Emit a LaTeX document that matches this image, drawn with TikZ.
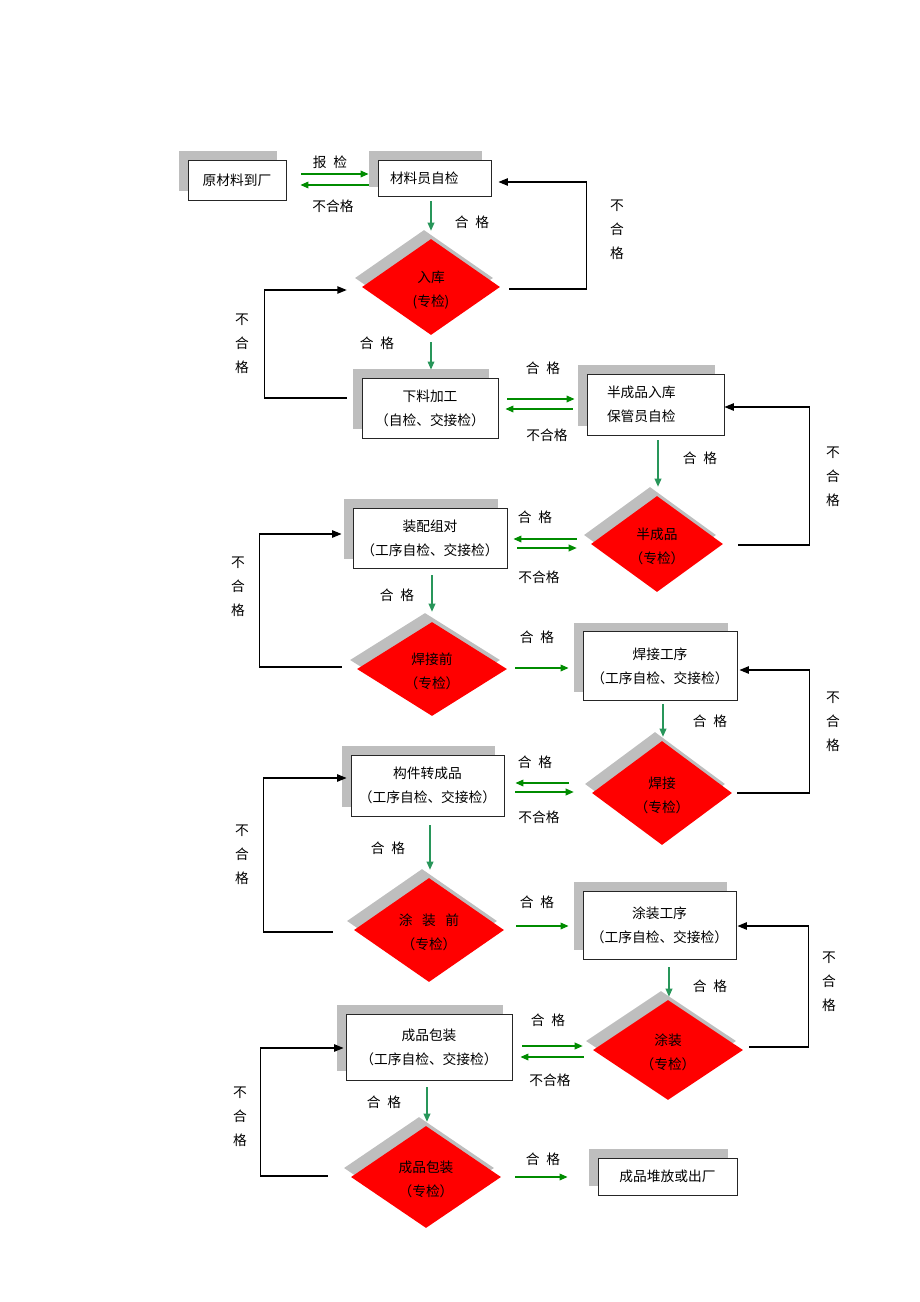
\documentclass[tikz,border=0pt]{standalone}
\usepackage{fontspec}
\setmainfont{Noto Sans CJK SC}
\usepackage{tikz}
\usepackage{xcolor}
\usetikzlibrary{shapes, arrows.meta, shadows, calc}

\definecolor{passgreen}{RGB}{0,140,0}
\definecolor{downgreen}{RGB}{40,150,90}
\definecolor{shadowgray}{RGB}{190,190,190}
\newcommand{\kgap}{\hspace{5pt}}

\begin{document}
\begin{tikzpicture}[x=0.75pt, y=-0.75pt,
        every node/.style={font=\fontsize{10.3}{18}\selectfont},
        box/.style={rectangle, draw=black!85, fill=white, line width=0.65pt, align=center, inner sep=0pt,
            drop shadow={shadow xshift=-6.75pt, shadow yshift=6.75pt, fill=shadowgray, opacity=1}},
        check/.style={diamond, fill=red, align=center, inner sep=0pt, text depth=0pt,
            minimum width=112.5pt, minimum height=75pt,
            drop shadow={shadow xshift=-5.25pt, shadow yshift=6.75pt, fill=shadowgray, opacity=1}},
        vlabel/.style={align=center},
        ok/.style={draw=passgreen, line width=1pt, -{Triangle[length=6pt, width=5pt]}},
        okdown/.style={draw=downgreen, line width=1pt, -{Triangle[length=6pt, width=5pt]}},
        back/.style={draw, line width=0.9pt, -{Triangle[length=7pt, width=5.5pt]}}]
        \useasboundingbox (0, 0) rectangle (920, 1302);

        \node[box, minimum width=73.5pt, minimum height=30pt] (raw) at (237, 180) {原材料到厂};
        \node[box, minimum height=27pt, inner xsep=9pt, text width=66.75pt, align=left] (selfchk) at (434.5, 178) {材料员自检};
        \node[check, minimum width=103.5pt, minimum height=72pt] (store) at (431, 287) {\raisebox{-3pt}{入库}\\\raisebox{-3pt}{(专检)}};
        \node[box, minimum width=102pt, minimum height=45pt] (cut) at (430, 408) {下料加工\\（自检、交接检）};
        \node[box, minimum height=45.75pt, inner xsep=15pt, text width=72.75pt, align=left] (semi) at (655.5, 404.5) {半成品入库\\保管员自检};
        \node[check, minimum width=99pt, minimum height=72pt] (semichk) at (657, 544) {\raisebox{-3pt}{半成品}\\\raisebox{-3pt}{（专检）}};
        \node[box, minimum width=115.5pt, minimum height=45pt] (assy) at (430, 538) {装配组对\\（工序自检、交接检）};
        \node[check, minimum height=70.5pt] (prewld) at (432, 669) {\raisebox{-3pt}{焊接前}\\\raisebox{-3pt}{（专检）}};
        \node[box, minimum width=115.5pt, minimum height=51.75pt] (wld) at (660, 666) {焊接工序\\（工序自检、交接检）};
        \node[check, minimum width=105pt, minimum height=78pt] (wldchk) at (662, 793) {\raisebox{-3pt}{焊接}\\\raisebox{-3pt}{（专检）}};
        \node[box, minimum width=114.75pt, minimum height=45.75pt] (comp) at (427.5, 785.5) {构件转成品\\（工序自检、交接检）};
        \node[check, minimum height=78pt] (prepaint) at (429, 930) {\raisebox{-3pt}{涂\hspace{0.7em}装\hspace{0.7em}前}\\\raisebox{-3pt}{（专检）}};
        \node[box, minimum width=114.75pt, minimum height=51pt] (paint) at (659.5, 925) {涂装工序\\（工序自检、交接检）};
        \node[check] (paintchk) at (668, 1050) {\raisebox{-3pt}{涂装}\\\raisebox{-3pt}{（专检）}};
        \node[box, minimum width=124.5pt, minimum height=49.5pt] (pack) at (429, 1047) {成品包装\\（工序自检、交接检）};
        \node[check, minimum height=76.5pt] (packchk) at (426, 1177) {\raisebox{-3pt}{成品包装}\\\raisebox{-3pt}{（专检）}};
        \node[box, minimum width=104.25pt, minimum height=27.75pt] (out) at (667.5, 1176.5) {成品堆放或出厂};

        \draw[ok] ($(raw.east)+(15,-6)$) -- ($(selfchk.west)+(-9,-4)$);
        \draw[ok] ($(selfchk.west)+(-9,7)$) -- ($(raw.east)+(14,5)$);
        \draw[okdown] ($(selfchk.south)+(-3.5,5)$) -- ($(store.north)+(0,-8)$);
        \draw[back] ($(store.east)+(9,2)$) -- ++(77,0) |- ($(selfchk.east)+(7,4)$);
        \draw[okdown] ($(store.south)+(0,7)$) -- ($(cut.north)+(1,-8)$);
        \draw[back] ($(cut.west)+(-15,-10)$) -- ++(-82,0) |- ($(store.west)+(-15,3)$);
        \draw[ok] ($(cut.east)+(9,-9)$) -- ($(semi.west)+(-12,-5.5)$);
        \draw[ok] ($(semi.west)+(-14,4.5)$) -- ($(cut.east)+(7,1)$);
        \draw[okdown] ($(semi.south)+(2.5,5)$) -- ($(semichk.north)+(1,-9)$);
        \draw[back] ($(semichk.east)+(15,1)$) -- ++(71,0) |- ($(semi.east)+(0,2.5)$);
        \draw[ok] ($(semichk.west)+(-14,-5)$) -- ($(assy.east)+(6,1)$);
        \draw[ok] ($(assy.east)+(10,10)$) -- ($(semichk.west)+(-14,4)$);
        \draw[okdown] ($(assy.south)+(2,7)$) -- ($(prewld.north)+(0,-10)$);
        \draw[back] ($(prewld.west)+(-15,-2)$) -- ++(-82,0) |- ($(assy.west)+(-11,-4)$);
        \draw[ok] ($(prewld.east)+(8,-1)$) -- ($(wld.west)+(-14,2)$);
        \draw[okdown] ($(wld.south)+(3,3)$) -- ($(wldchk.north)+(1,-4)$);
        \draw[back] ($(wldchk.east)+(5,0)$) -- ++(72,0) |- ($(wld.east)+(2,4)$);
        \draw[ok] ($(wldchk.west)+(-23,-10)$) -- ($(comp.east)+(11,-2.5)$);
        \draw[ok] ($(comp.east)+(11,6.5)$) -- ($(wldchk.west)+(-18,-1)$);
        \draw[okdown] ($(comp.south)+(2.5,9)$) -- ($(prepaint.north)+(1,-8)$);
        \draw[back] ($(prepaint.west)+(-21,2)$) -- ++(-69,0) |- ($(comp.west)+(-4,-7.5)$);
        \draw[ok] ($(prepaint.east)+(12,-4)$) -- ($(paint.west)+(-14,1)$);
        \draw[okdown] ($(paint.south)+(9.5,8)$) -- ($(paintchk.north)+(1,-3)$);
        \draw[back] ($(paintchk.east)+(6,-3)$) -- ++(59,0) |- ($(paint.east)+(1,1)$);
        \draw[ok] ($(pack.east)+(10,-1)$) -- ($(paintchk.west)+(-10,-4)$);
        \draw[ok] ($(paintchk.west)+(-9,7)$) -- ($(pack.east)+(8,10)$);
        \draw[okdown] ($(pack.south)+(-2,7)$) -- ($(packchk.north)+(1,-4)$);
        \draw[back] ($(packchk.west)+(-23,-1)$) -- ++(-67,0) |- ($(pack.west)+(-2,1)$);
        \draw[ok] ($(packchk.east)+(14,0)$) -- ($(out.west)+(-30,0.5)$);

        \node (l1) at (330, 162) {报\kgap 检};
        \node (l2) at (333, 206) {不合格};
        \node (l3) at (472, 222) {合\kgap 格};
        \node[vlabel] (l4) at (617, 230) {不\\合\\格};
        \node (l5) at (377, 343) {合\kgap 格};
        \node[vlabel] (l6) at (242, 344) {不\\合\\格};
        \node (l7) at (543, 368) {合\kgap 格};
        \node (l8) at (547, 435) {不合格};
        \node (l9) at (700, 458) {合\kgap 格};
        \node[vlabel] (l10) at (833, 477) {不\\合\\格};
        \node (l11) at (535, 517) {合\kgap 格};
        \node (l12) at (539, 577) {不合格};
        \node (l13) at (397, 595) {合\kgap 格};
        \node[vlabel] (l14) at (238, 587) {不\\合\\格};
        \node (l15) at (537, 637) {合\kgap 格};
        \node (l16) at (710, 721) {合\kgap 格};
        \node[vlabel] (l17) at (833, 722) {不\\合\\格};
        \node (l18) at (535, 762) {合\kgap 格};
        \node (l19) at (539, 817) {不合格};
        \node (l20) at (388, 848) {合\kgap 格};
        \node[vlabel] (l21) at (242, 855) {不\\合\\格};
        \node (l22) at (537, 902) {合\kgap 格};
        \node (l23) at (710, 986) {合\kgap 格};
        \node[vlabel] (l24) at (829, 982) {不\\合\\格};
        \node (l25) at (548, 1020) {合\kgap 格};
        \node (l26) at (550, 1080) {不合格};
        \node (l27) at (384, 1102) {合\kgap 格};
        \node[vlabel] (l28) at (240, 1117) {不\\合\\格};
        \node (l29) at (543, 1159) {合\kgap 格};
    \end{tikzpicture}
\end{document}
